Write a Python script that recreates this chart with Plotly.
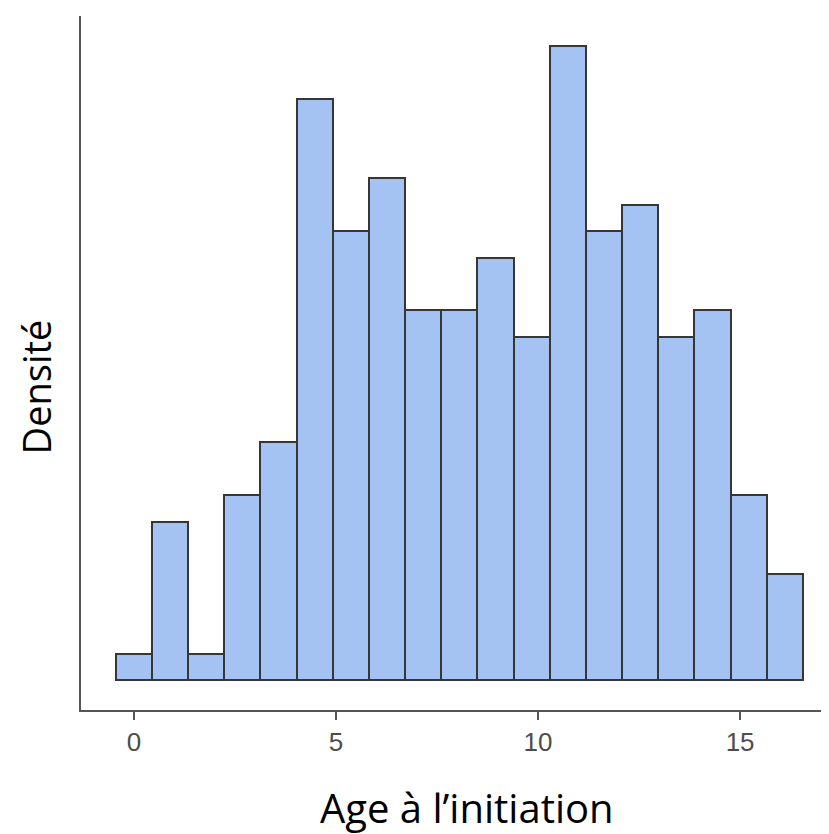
import plotly.graph_objects as go

# Histogram data
bin_start = -0.45
bin_width = 0.895
counts = [1, 6, 1, 7, 9, 22, 17, 19, 14, 14, 16, 13, 24, 17, 18, 13, 14, 7, 4]
tick_vals = [0, 5, 10, 15]
tick_text = ["0", "5", "10", "15"]
x_title = "Age à l’initiation"
y_title = "Densité"

centers = [bin_start + bin_width * (i + 0.5) for i in range(len(counts))]

fig = go.Figure()
fig.add_trace(go.Bar(
    x=centers, y=counts, width=[bin_width] * len(counts),
    marker=dict(color="#A5C3F2", line=dict(color="#363636", width=2)),
    hoverinfo="skip",
))

axis_color = "#555555"
fig.update_layout(
    width=821, height=826,
    margin=dict(l=73, r=0, t=8, b=124),
    paper_bgcolor="white", plot_bgcolor="white",
    showlegend=False,
    bargap=0,
    xaxis=dict(
        range=[-1.31, 17.2], showgrid=False, zeroline=False,
        showline=True, linecolor=axis_color, linewidth=2,
        ticks="outside", ticklen=8, tickwidth=2, tickcolor=axis_color,
        tickvals=tick_vals, ticktext=tick_text,
        tickfont=dict(family="Liberation Sans, Arial", size=26, color="#4d4d4d"),
    ),
    yaxis=dict(
        range=[-1.14, 25.15], showgrid=False, zeroline=False,
        showline=True, linecolor=axis_color, linewidth=2,
        showticklabels=False, ticks="",
    ),
    annotations=[
        dict(text=x_title, xref="paper", yref="paper", x=0.516, y=-0.141,
             xanchor="center", yanchor="middle", showarrow=False,
             font=dict(family="Open Sans", size=40, color="black")),
        dict(text=y_title, xref="paper", yref="paper", x=-0.060, y=0.465,
             xanchor="center", yanchor="middle", showarrow=False, textangle=-90,
             font=dict(family="Open Sans", size=38, color="black")),
    ],
)

fig.write_html("out.html")
